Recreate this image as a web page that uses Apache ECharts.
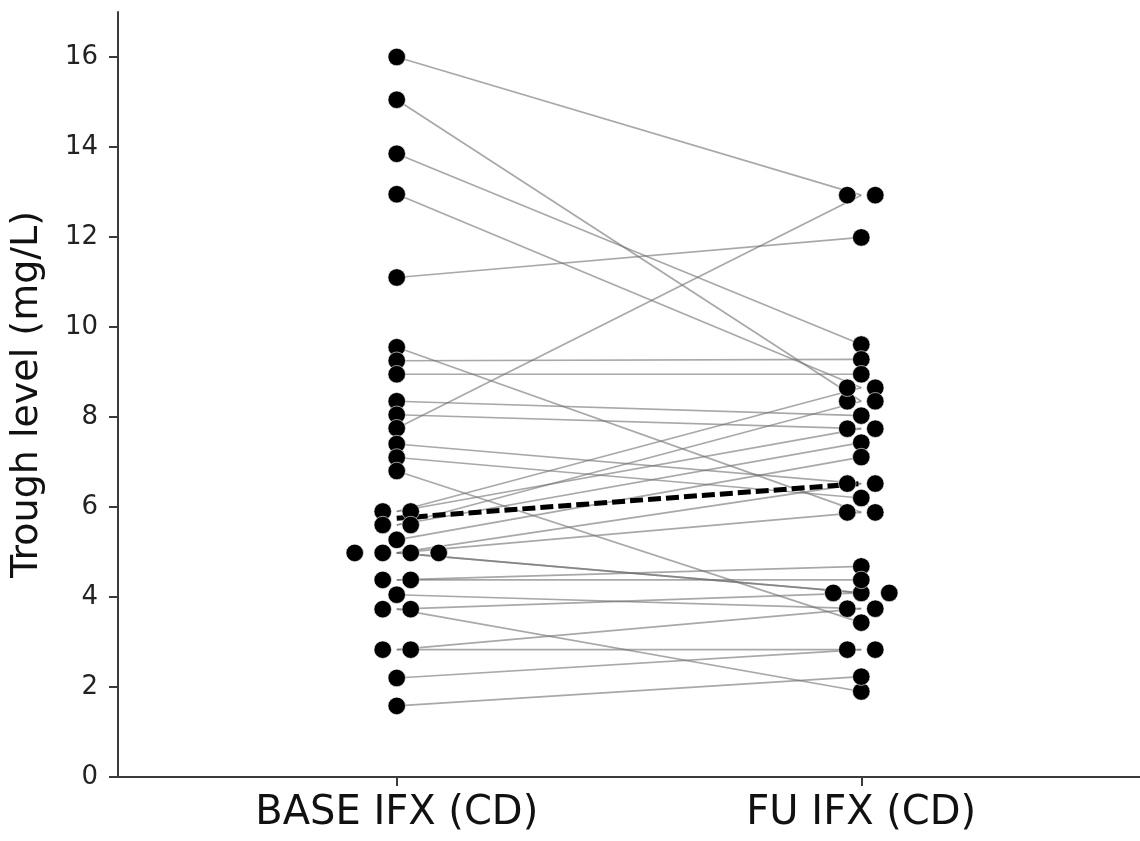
<!DOCTYPE html>
<html><head><meta charset="utf-8">
<script src="https://cdn.jsdelivr.net/npm/echarts@6/dist/echarts.min.js"></script>
<style>html,body{margin:0;padding:0;background:#fff}#c{width:1140px;height:841px}</style>
</head><body><div id="c"></div>
<script>
// paired measurements, one entry per patient
const groups = ['BASE IFX (CD)', 'FU IFX (CD)'];
const baseIFX = [16.0, 15.05, 13.85, 12.95, 11.1, 9.55, 9.25, 8.95, 8.35, 8.05, 7.75, 7.4, 7.1, 6.8, 5.9, 5.9, 5.6, 5.6, 5.27, 4.98, 4.98, 4.98, 4.98, 4.38, 4.38, 4.05, 3.73, 3.73, 2.83, 2.83, 2.2, 1.58];
const fuIFX   = [12.93, 8.35, 9.61, 8.65, 11.99, 5.88, 9.28, 8.95, 8.03, 7.74, 12.93, 6.52, 6.20, 3.43, 8.65, 7.74, 8.35, 7.43, 7.11, 6.52, 4.09, 4.09, 5.88, 4.68, 4.38, 3.74, 4.09, 1.90, 3.74, 2.83, 2.83, 2.23];
const yTicks = [0, 2, 4, 6, 8, 10, 12, 14, 16];
const yTitle = 'Trough level (mg/L)';

const DOT_GAP = 28;
function median(a) {
  const s = a.slice().sort((x, y) => x - y);
  const m = s.length / 2;
  return s.length % 2 ? s[Math.floor(m)] : (s[m - 1] + s[m]) / 2;
}
function swarmData(vals, xi) {
  const counts = {}, seen = {};
  vals.forEach(v => { counts[v] = (counts[v] || 0) + 1; });
  return vals.map(v => {
    const k = seen[v] || 0; seen[v] = k + 1;
    const off = (k - (counts[v] - 1) / 2) * DOT_GAP;
    return { value: [xi, v], symbolOffset: [off, 0] };
  });
}

const series = [];
baseIFX.forEach((b, i) => {
  series.push({
    type: 'line', data: [[0, b], [1, fuIFX[i]]], symbol: 'none', silent: true, z: 1,
    lineStyle: { color: 'rgba(110,110,110,0.6)', width: 1.7 }
  });
});
series.push({
  type: 'line', data: [[0, median(baseIFX)], [1, median(fuIFX)]], symbol: 'none', z: 3,
  lineStyle: { color: '#000', width: 5, type: [13, 5] }
});
[baseIFX, fuIFX].forEach((vals, xi) => {
  series.push({
    type: 'scatter', data: swarmData(vals, xi), symbol: 'circle', symbolSize: 17.5, z: 5,
    itemStyle: { color: '#000', borderColor: '#fff', borderWidth: 0.6, opacity: 1 }
  });
});

const chart = echarts.init(document.getElementById('c'));
chart.setOption({
  animation: false,
  backgroundColor: '#fff',
  grid: { left: 117, right: 0, top: 12, bottom: 64, containLabel: false },
  xAxis: {
    type: 'value', min: -0.6, max: 1.6,
    axisLine: { show: true, onZero: false, lineStyle: { color: '#3a3a3a', width: 2 } },
    axisTick: { show: true, length: 9, customValues: [0, 1], lineStyle: { color: '#3a3a3a', width: 2 } },
    axisLabel: { customValues: [0, 1], formatter: v => groups[Math.round(v)] || '', fontFamily: 'DejaVu Sans', fontSize: 40, color: '#111', margin: 17 },
    splitLine: { show: false }
  },
  yAxis: {
    type: 'value', min: 0, max: 17,
    name: yTitle, nameLocation: 'middle', nameGap: 72,
    nameTextStyle: { fontFamily: 'DejaVu Sans', fontSize: 38, color: '#111' },
    axisLine: { show: true, onZero: false, lineStyle: { color: '#3a3a3a', width: 2 } },
    axisTick: { show: true, length: 9, customValues: yTicks, lineStyle: { color: '#3a3a3a', width: 2 } },
    axisLabel: { customValues: yTicks, fontFamily: 'DejaVu Sans', fontSize: 26, color: '#222', margin: 20 },
    splitLine: { show: false }
  },
  series: series
});
</script></body></html>
